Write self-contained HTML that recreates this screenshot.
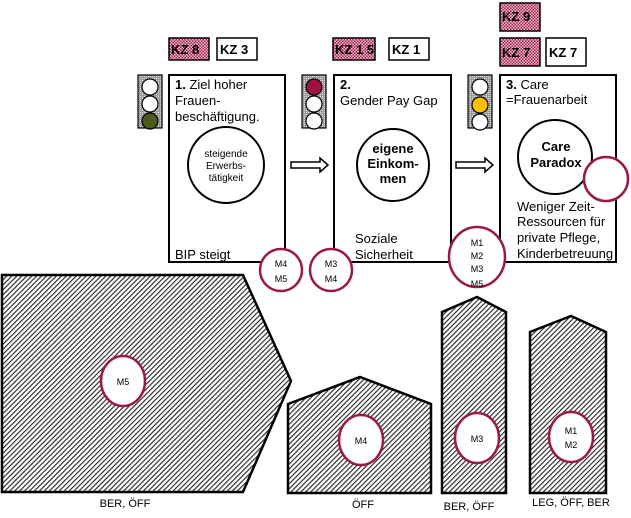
<!DOCTYPE html>
<html><head><meta charset="utf-8"><style>
body{margin:0;background:#fff}
svg{display:block}
text{font-family:"Liberation Sans",sans-serif;fill:#000}
</style></head><body>
<svg width="631" height="518" viewBox="0 0 631 518" xmlns="http://www.w3.org/2000/svg">
<defs>
<pattern id="h" width="3.5" height="3.5" patternUnits="userSpaceOnUse" patternTransform="rotate(45)">
<rect width="3.5" height="3.5" fill="#fff"/><rect width="1.1" height="3.5" fill="#222"/></pattern>
<pattern id="c" width="3" height="3" patternUnits="userSpaceOnUse">
<rect width="3" height="3" fill="#a0204a"/><rect x="0" y="0" width="1.5" height="1.5" fill="#f0c0d0"/><rect x="1.5" y="1.5" width="1.5" height="1.5" fill="#f0c0d0"/></pattern>
<pattern id="g" width="2" height="2" patternUnits="userSpaceOnUse">
<rect width="2" height="2" fill="#999"/><rect width="1" height="1" fill="#ddd"/></pattern>
</defs>

<g stroke="#000" stroke-width="1.5" font-weight="bold" font-size="13">
<rect x="169" y="38" width="40" height="22" fill="url(#c)"/>
<rect x="217" y="38" width="40" height="22" fill="#fff"/>
<rect x="333" y="38" width="42" height="22" fill="url(#c)"/>
<rect x="389" y="38" width="40" height="22" fill="#fff"/>
<rect x="500" y="3" width="40" height="28" fill="url(#c)"/>
<rect x="500" y="38" width="40" height="28" fill="url(#c)"/>
<rect x="546" y="38" width="40" height="28" fill="#fff"/>
</g>
<g font-size="13" font-weight="bold">
<text x="171" y="54">KZ 8</text><text x="220" y="54">KZ 3</text>
<text x="335" y="54">KZ 1 5</text><text x="392" y="54">KZ 1</text>
<text x="502" y="21">KZ 9</text><text x="502" y="57">KZ 7</text><text x="549" y="57">KZ 7</text>
</g>

<g stroke="#000" stroke-width="1.2">
<rect x="138" y="75" width="24" height="53" fill="url(#g)"/>
<circle cx="150" cy="87" r="8" fill="#fff"/><circle cx="150" cy="104" r="8" fill="#fff"/><circle cx="150" cy="121" r="8" fill="#4d5a1e"/>
<rect x="302" y="75" width="24" height="53" fill="url(#g)"/>
<circle cx="314" cy="87" r="8" fill="#a01040"/><circle cx="314" cy="104" r="8" fill="#fff"/><circle cx="314" cy="121" r="8" fill="#fff"/>
<rect x="468" y="75" width="24" height="53" fill="url(#g)"/>
<circle cx="480" cy="87" r="8" fill="#fff"/><circle cx="480" cy="105" r="8" fill="#ffc000"/><circle cx="480" cy="122" r="8" fill="#fff"/>
</g>

<g fill="#fff" stroke="#000" stroke-width="2">
<rect x="169" y="75" width="116" height="187"/>
<rect x="334" y="75" width="117" height="187"/>
<rect x="500" y="75" width="116" height="187"/>
</g>
<g fill="#fff" stroke="#000" stroke-width="1.5">
<path d="M291 162 H320 V158 L328 165 L320 172 V168 H291 Z"/>
<path d="M456 162 H485 V158 L493 165 L485 172 V168 H456 Z"/>
</g>

<g font-size="13">
<text x="175" y="89"><tspan font-weight="bold">1.</tspan> Ziel hoher</text>
<text x="175" y="105">Frauen-</text>
<text x="175" y="121">beschäftigung.</text>
<text x="175" y="259">BIP steigt</text>
<text x="340" y="89" font-weight="bold">2.</text>
<text x="340" y="105">Gender Pay Gap</text>
<text x="355" y="243">Soziale</text>
<text x="355" y="259">Sicherheit</text>
<text x="506" y="89"><tspan font-weight="bold">3.</tspan> Care</text>
<text x="506" y="104">=Frauenarbeit</text>
<text x="517" y="211">Weniger Zeit-</text>
<text x="517" y="226">Ressourcen für</text>
<text x="517" y="242">private Pflege,</text>
<text x="517" y="258">Kinderbetreuung</text>
</g>

<g fill="#fff" stroke="#000" stroke-width="2">
<circle cx="226" cy="165" r="38"/>
<circle cx="393" cy="165" r="36"/>
<circle cx="555" cy="157" r="37"/>
</g>
<g font-size="10" text-anchor="middle">
<text x="226" y="157">steigende</text><text x="226" y="169">Erwerbs-</text><text x="226" y="181">tätigkeit</text>
</g>
<g font-size="13" font-weight="bold" text-anchor="middle">
<text x="393" y="153">eigene</text><text x="393" y="168">Einkom-</text><text x="393" y="183">men</text>
<text x="556" y="151">Care</text><text x="556" y="167">Paradox</text>
</g>

<g fill="url(#h)" stroke="#000" stroke-width="2.5">
<path d="M2 275 H243 L291 381 L243 492 H2 Z"/>
<path d="M288 404 L360 377 L431 404 V493 H288 Z"/>
<path d="M442 312 L477 297 L506 312 V493 H442 Z"/>
<path d="M530 332 L571 316 L606 332 V493 H530 Z"/>
</g>

<g fill="#fff" stroke="#9a1a44" stroke-width="2.5">
<circle cx="281" cy="270" r="21"/>
<circle cx="331" cy="270" r="21"/>
<ellipse cx="477" cy="257" rx="28" ry="30"/>
<circle cx="606" cy="179" r="22"/>
<ellipse cx="123" cy="381" rx="22" ry="25"/>
<ellipse cx="361" cy="440" rx="22" ry="25"/>
<ellipse cx="477" cy="438" rx="22" ry="25"/>
<ellipse cx="571" cy="437" rx="22" ry="25"/>
</g>
<g font-size="9" text-anchor="middle">
<text x="281" y="267">M4</text><text x="281" y="282">M5</text>
<text x="331" y="267">M3</text><text x="331" y="282">M4</text>
<text x="477" y="246">M1</text><text x="477" y="259">M2</text><text x="477" y="272">M3</text><text x="477" y="287">M5</text>
<text x="123" y="385">M5</text>
<text x="361" y="444">M4</text>
<text x="477" y="442">M3</text>
<text x="571" y="434">M1</text><text x="571" y="448">M2</text>
</g>
<g font-size="11" text-anchor="middle">
<text x="125" y="507">BER, ÖFF</text>
<text x="363" y="508">ÖFF</text>
<text x="469" y="510">BER, ÖFF</text>
<text x="571" y="506">LEG, ÖFF, BER</text>
</g>
</svg>
</body></html>
